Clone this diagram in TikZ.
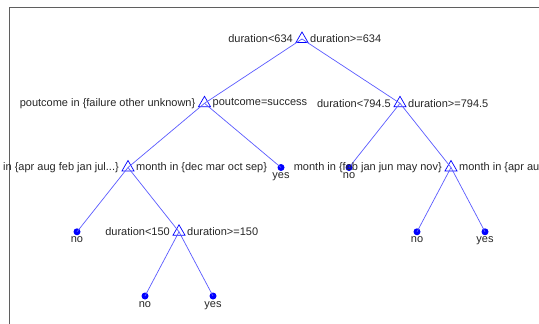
\documentclass[tikz,border=0pt]{standalone}
\usepackage{fontspec}
\setmainfont{Liberation Sans}
\usetikzlibrary{shapes.geometric}
\definecolor{treeblue}{RGB}{0,0,255}
\definecolor{branchblue}{RGB}{90,90,255}
\definecolor{framegray}{RGB}{95,95,95}
\tikzset{
  split/.style={regular polygon, regular polygon sides=3, draw=treeblue, line width=0.7pt, minimum size=14pt, inner sep=0pt},
  leaf/.style={circle, fill=treeblue, minimum size=7pt, inner sep=0pt},
  lab/.style={inner sep=0pt, text=black!85, font=\fontsize{11}{13}\selectfont},
  branch/.style={draw=branchblue, line width=0.7pt}
}

\begin{document}
\begin{tikzpicture}[x=1pt,y=-1pt]
\useasboundingbox (0,0) rectangle (539,324);
\clip (0,0) rectangle (539,324);

\draw [framegray, line width=1pt] (9,324) -- (9,7) -- (539,7);

\node[split] (n1) at (302,39) {};
\node[split] (n2) at (204.5,103.3) {};
\node[split] (n3) at (400,103.3) {};
\node[split] (n4) at (128,167.5) {};
\node[leaf] (n5) at (281,167.5) {};
\node[leaf] (n6) at (349,167.5) {};
\node[split] (n7) at (451,167.5) {};
\node[leaf] (n8) at (77,231.8) {};
\node[split] (n9) at (179,231.8) {};
\node[leaf] (n10) at (417,231.8) {};
\node[leaf] (n11) at (485,231.8) {};
\node[leaf] (n12) at (145,296) {};
\node[leaf] (n13) at (213,296) {};

\foreach \a/\b in {n1/n2,n1/n3,n2/n4,n2/n5,n3/n6,n3/n7,n4/n8,n4/n9,n7/n10,n7/n11,n9/n12,n9/n13}
  \draw [branch] (\a.center) -- (\b.center);

\node[lab, anchor=east] (l1) at ([xshift=-9pt]n1.center) {duration<634};
\node[lab, anchor=west] (r1) at ([xshift=8pt]n1.center) {duration>=634};
\node[lab, anchor=east] (l2) at ([xshift=-9pt]n2.center) {poutcome in \{failure other unknown\}};
\node[lab, anchor=west] (r2) at ([xshift=8pt]n2.center) {poutcome=success};
\node[lab, anchor=east] (l3) at ([xshift=-9pt]n3.center) {duration<794.5};
\node[lab, anchor=west] (r3) at ([xshift=8pt]n3.center) {duration>=794.5};
\node[lab, anchor=east] (l4) at ([xshift=-9pt]n4.center) {month in \{apr aug feb jan jul...\}};
\node[lab, anchor=west] (r4) at ([xshift=8pt]n4.center) {month in \{dec mar oct sep\}};
\node[lab, anchor=east] (l7) at ([xshift=-9pt]n7.center) {month in \{feb jan jun may nov\}};
\node[lab, anchor=west] (r7) at ([xshift=8pt]n7.center) {month in \{apr aug dec jul...\}};
\node[lab, anchor=east] (l9) at ([xshift=-9pt]n9.center) {duration<150};
\node[lab, anchor=west] (r9) at ([xshift=8pt]n9.center) {duration>=150};

% leaf classes
\node[lab, anchor=north] (c5) at ([yshift=-5pt]n5.center) {yes};
\node[lab, anchor=north] (c6) at ([yshift=-5pt]n6.center) {no};
\node[lab, anchor=north] (c8) at ([yshift=-5pt]n8.center) {no};
\node[lab, anchor=north] (c10) at ([yshift=-5pt]n10.center) {no};
\node[lab, anchor=north] (c11) at ([yshift=-5pt]n11.center) {yes};
\node[lab, anchor=north] (c12) at ([yshift=-5pt]n12.center) {no};
\node[lab, anchor=north] (c13) at ([yshift=-5pt]n13.center) {yes};
\end{tikzpicture}
\end{document}
